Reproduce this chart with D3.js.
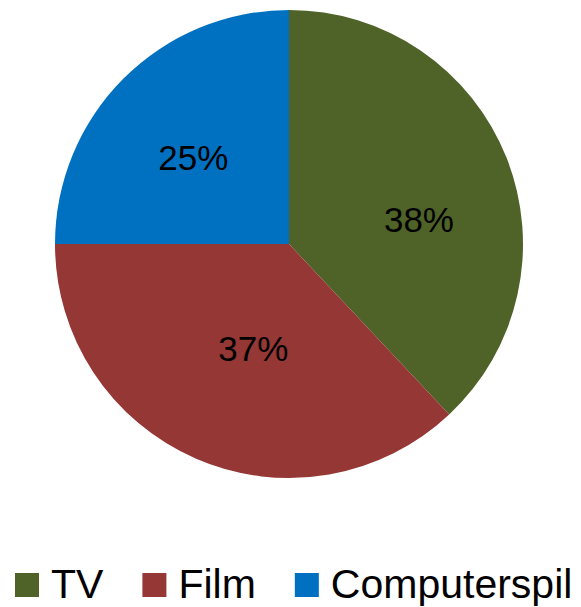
<!DOCTYPE html>
<html>
<head>
<meta charset="utf-8">
<script src="https://cdn.jsdelivr.net/npm/d3@7"></script>
<style>
  html, body { margin: 0; padding: 0; background: #fff; }
  svg { display: block; }
</style>
</head>
<body>
<svg id="chart" width="581" height="607"></svg>
<script>
// Share of media use, in percent
const categories = ["TV", "Film", "Computerspil"];
const shares = [38, 37, 25];
const colors = ["#4F6228", "#953735", "#0070C0"];

const width = 581, height = 607;
const cx = 289, cy = 244, radius = 234;
const font = "'Liberation Sans', Arial, Helvetica, sans-serif";

const svg = d3.select("#chart");

const pie = d3.pie().sort(null).value(d => d.value);
const arcs = pie(categories.map((c, i) => ({ name: c, value: shares[i] })));

const arc = d3.arc().innerRadius(0).outerRadius(radius);

const g = svg.append("g").attr("transform", `translate(${cx},${cy})`);

g.selectAll("path.slice")
  .data(arcs)
  .join("path")
  .attr("class", "slice")
  .attr("d", arc)
  .attr("fill", (d, i) => colors[i]);

// Label placement: angle nudge (degrees) and radial fraction per slice
const labelNudge = [11, -4.5, -3];
const labelRadius = [0.565, 0.47, 0.55];

g.selectAll("text.pct")
  .data(arcs)
  .join("text")
  .attr("class", "pct")
  .each(function (d, i) {
    const mid = (d.startAngle + d.endAngle) / 2 + labelNudge[i] * Math.PI / 180;
    const r = radius * labelRadius[i];
    d3.select(this)
      .attr("x", r * Math.sin(mid))
      .attr("y", -r * Math.cos(mid));
  })
  .attr("text-anchor", "middle")
  .attr("dominant-baseline", "central")
  .attr("font-family", font)
  .attr("font-size", 35)
  .attr("fill", "#000")
  .text(d => d.data.value + "%");

// Legend along the bottom
const legend = svg.append("g").attr("transform", "translate(15,0)");
const sw = 24, gapText = 12, gapItem = 39, legendBaseline = 598, fontSize = 41;

let x = 0;
categories.forEach((c, i) => {
  const item = legend.append("g").attr("transform", `translate(${x},0)`);
  item.append("rect")
    .attr("x", 0).attr("y", 573)
    .attr("width", sw).attr("height", sw)
    .attr("fill", colors[i]);
  const t = item.append("text")
    .attr("x", sw + gapText)
    .attr("y", legendBaseline)
    .attr("font-family", font)
    .attr("font-size", fontSize)
    .attr("fill", "#000")
    .text(c);
  const w = t.node().getComputedTextLength();
  x += sw + gapText + w + gapItem;
});
</script>
</body>
</html>
